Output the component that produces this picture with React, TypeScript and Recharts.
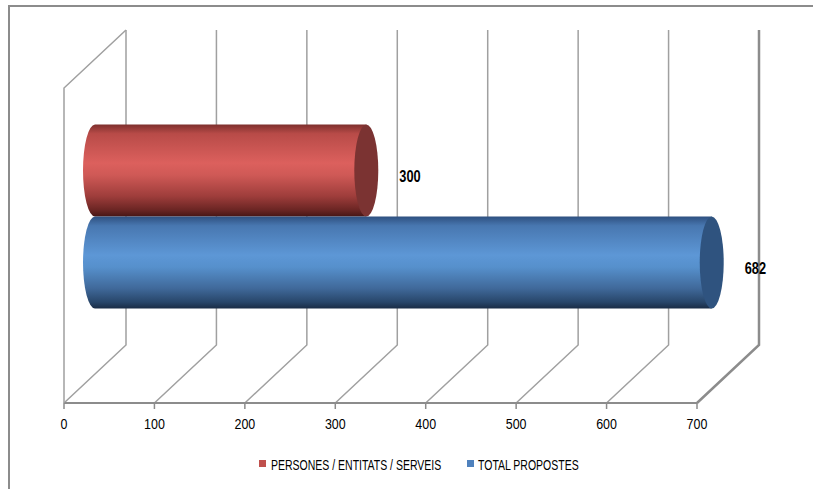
import { BarChart, Bar, XAxis, YAxis, Legend, CartesianGrid } from 'recharts';

const CATEGORIES = [''];
const PERSONES = [300];
const TOTAL = [682];
const X_TICKS = [0, 100, 200, 300, 400, 500, 600, 700];

const SERIES = [
  { key: 'persones', name: 'PERSONES / ENTITATS / SERVEIS', color: '#c0504d' },
  { key: 'total', name: 'TOTAL PROPOSTES', color: '#4f81bd' },
];

const data = CATEGORIES.map((name, i) => ({
  name,
  persones: PERSONES[i],
  total: TOTAL[i],
}));

// 3D look: back wall offset from the front axis
const DEPTH_X = 62;
const DEPTH_Y = 58;
const FONT = '"Liberation Sans", Arial, sans-serif';

// narrow text: Liberation Sans squeezed horizontally (Calibri-like)
const NarrowText = ({ x, y, sx, size, bold, anchor, children }: any) => (
  <text
    transform={`translate(${x},${y}) scale(${sx},1)`}
    textAnchor={anchor || 'start'}
    fontFamily={FONT}
    fontSize={size}
    fontWeight={bold ? 'bold' : 'normal'}
    fill="#000"
  >
    {children}
  </text>
);

// one 3D grid line: floor diagonal + back wall vertical
const WallLine = (props: any) => {
  const { x1, y1, y2, index } = props;
  const backX = x1 + DEPTH_X;
  const backY = y2 - DEPTH_Y;
  const wallH = y2 - y1;
  const last = index === X_TICKS.length - 1;
  return (
    <path
      key={props.key}
      d={`M${x1},${y2} L${backX},${backY} L${backX},${backY - wallH}`}
      fill="none"
      stroke={last ? '#8c8c8c' : '#a0a0a0'}
      strokeWidth={last ? 2.5 : 1.5}
    />
  );
};

const AxisTick = (props: any) => {
  const { x, y, payload, index } = props;
  const axisY = y - 8;
  const wallH = axisY - 88;
  return (
    <g>
      {index === 0 && (
        <path
          d={`M${x},${axisY} L${x},${axisY - wallH} L${x + DEPTH_X},${axisY - wallH - DEPTH_Y}`}
          fill="none"
          stroke="#a0a0a0"
          strokeWidth={1.5}
        />
      )}
      <NarrowText x={x} y={y + 18} sx={0.86} size={14.5} anchor="middle">
        {payload.value}
      </NarrowText>
    </g>
  );
};

const makeCylinder = (gradId: string, capColor: string) => (props: any) => {
  const { x, y, width, height } = props;
  const x0 = x + DEPTH_X / 2;
  const x1 = x + width + DEPTH_X / 2;
  const top = y - DEPTH_Y / 2;
  const bottom = top + height;
  const rx = 12;
  const ry = height / 2;
  return (
    <g>
      <path
        d={`M${x0},${top} L${x1},${top} L${x1},${bottom} L${x0},${bottom} A${rx},${ry} 0 0 1 ${x0},${top} Z`}
        fill={`url(#${gradId})`}
      />
      <ellipse cx={x1} cy={top + ry} rx={rx} ry={ry} fill={capColor} />
    </g>
  );
};

const CylinderLabel = (props: any) => {
  const { x, y, width, height, value } = props;
  return (
    <NarrowText
      x={x + width + DEPTH_X / 2 + 33}
      y={y - DEPTH_Y / 2 + height / 2 + 11}
      sx={0.8}
      size={16}
      bold
    >
      {value}
    </NarrowText>
  );
};

const LegendContent = () => (
  <svg width={340} height={20} style={{ display: 'block' }}>
    <rect x={0} y={3} width={7} height={7} fill={SERIES[0].color} />
    <NarrowText x={12} y={13} sx={0.7} size={15}>
      {SERIES[0].name}
    </NarrowText>
    <rect x={208} y={3} width={7} height={7} fill={SERIES[1].color} />
    <NarrowText x={219} y={13} sx={0.7} size={15}>
      {SERIES[1].name}
    </NarrowText>
  </svg>
);

export default function App() {
  return (
    <div style={{ position: 'absolute', left: 0, top: 0, width: 813, height: 489, background: '#fff', overflow: 'hidden' }}>
      <div
        style={{
          position: 'absolute',
          left: 8,
          top: 5,
          width: 900,
          height: 600,
          borderLeft: '2px solid #8c8c8c',
          borderTop: '2px solid #8c8c8c',
        }}
      />
      <div style={{ position: 'absolute', left: 0, top: 0 }}>
        <BarChart
          width={813}
          height={489}
          data={data}
          layout="vertical"
          margin={{ top: 88, right: 116, bottom: 56, left: 64 }}
          barCategoryGap="20.8%"
          barGap={0}
        >
          <defs>
            <linearGradient id="redCyl" x1="0" y1="0" x2="0" y2="1">
              <stop offset="0%" stopColor="#7e2f2d" />
              <stop offset="10%" stopColor="#b84b48" />
              <stop offset="42%" stopColor="#dc605d" />
              <stop offset="55%" stopColor="#cf5956" />
              <stop offset="78%" stopColor="#9e3d3b" />
              <stop offset="93%" stopColor="#6a2523" />
              <stop offset="100%" stopColor="#461615" />
            </linearGradient>
            <linearGradient id="blueCyl" x1="0" y1="0" x2="0" y2="1">
              <stop offset="0%" stopColor="#2e5080" />
              <stop offset="10%" stopColor="#4877b0" />
              <stop offset="42%" stopColor="#5d97d6" />
              <stop offset="55%" stopColor="#5690cc" />
              <stop offset="78%" stopColor="#40699a" />
              <stop offset="93%" stopColor="#28466a" />
              <stop offset="100%" stopColor="#1a2c45" />
            </linearGradient>
          </defs>
          <CartesianGrid horizontal={false} vertical={(p: any) => <WallLine {...p} key={p.key} />} />
          <XAxis
            type="number"
            domain={[0, 700]}
            ticks={X_TICKS}
            interval={0}
            height={30}
            tickSize={6}
            tickMargin={2}
            axisLine={{ stroke: '#8c8c8c', strokeWidth: 2 }}
            tickLine={{ stroke: '#8c8c8c', strokeWidth: 1.5 }}
            tick={<AxisTick />}
          />
          <YAxis type="category" dataKey="name" hide />
          <Legend
            layout="horizontal"
            verticalAlign="middle"
            align="center"
            wrapperStyle={{ top: 457, left: 259, width: 'auto', height: 'auto' }}
            content={<LegendContent />}
          />
          <Bar
            dataKey="persones"
            name={SERIES[0].name}
            fill={SERIES[0].color}
            shape={makeCylinder('redCyl', '#7b3332')}
            label={<CylinderLabel />}
            isAnimationActive={false}
          />
          <Bar
            dataKey="total"
            name={SERIES[1].name}
            fill={SERIES[1].color}
            shape={makeCylinder('blueCyl', '#2f537f')}
            label={<CylinderLabel />}
            isAnimationActive={false}
          />
        </BarChart>
      </div>
    </div>
  );
}
